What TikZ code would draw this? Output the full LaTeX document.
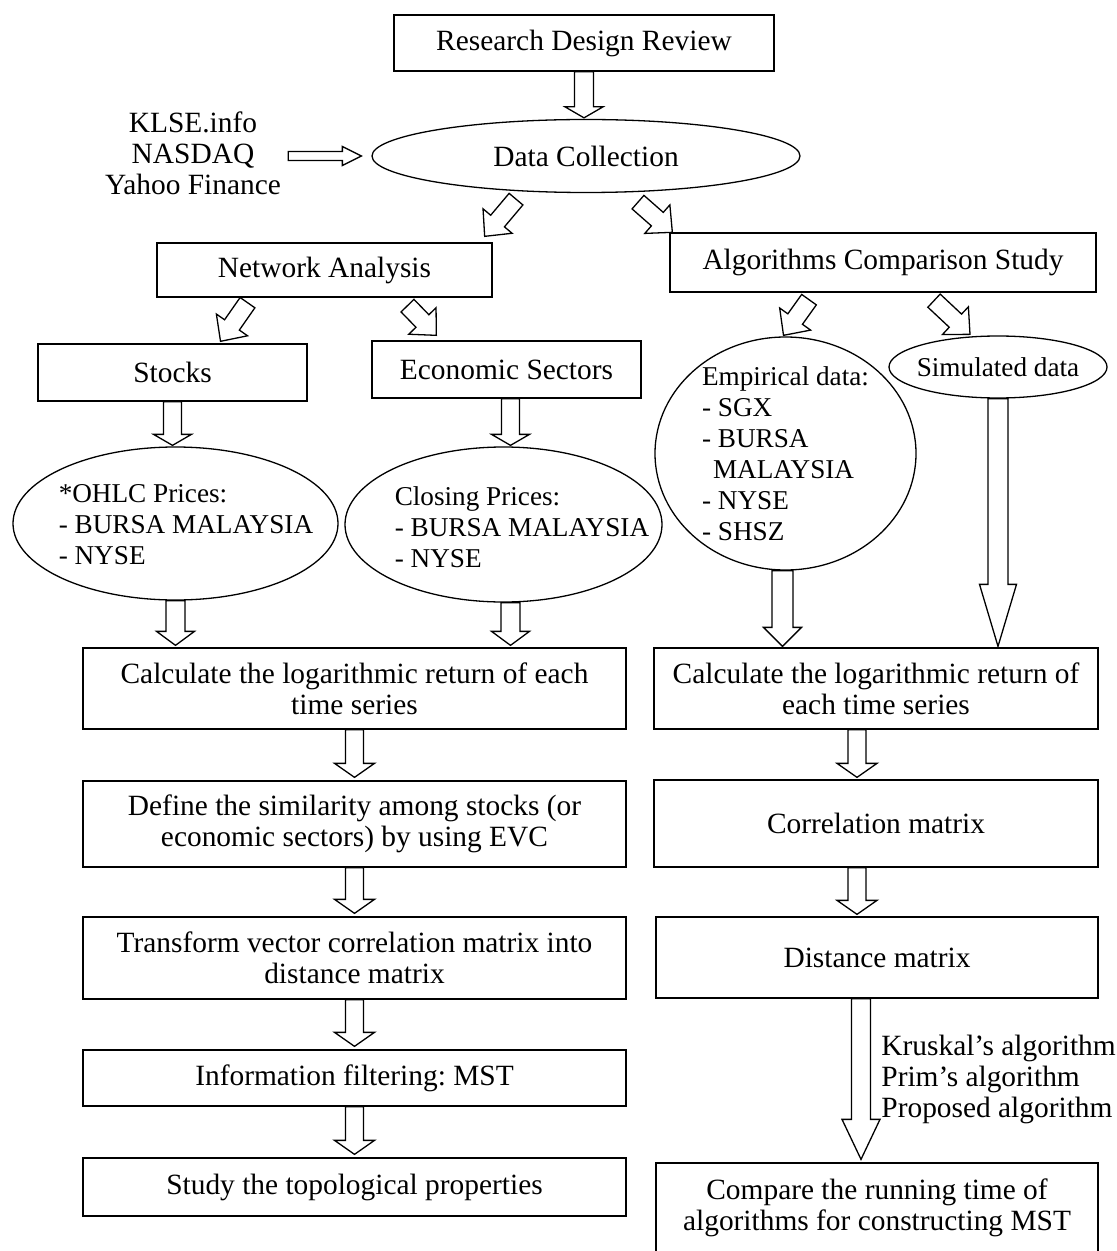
\documentclass[tikz,border=0pt]{standalone}
\usepackage{fontspec}
\setmainfont{Liberation Serif}
\usetikzlibrary{shapes.geometric,calc,positioning}

\tikzset{
  box/.style={draw,rectangle,inner sep=0pt,align=center,line width=0.65pt},
  oval/.style={draw,ellipse,inner sep=-30pt,line width=0.65pt},
  blk/.style={draw,fill=white,line width=0.65pt,line join=miter},
  listfont/.style={font=\fontsize{13.6}{15.5}\selectfont},
  listtext/.style={listfont,align=left,inner sep=0pt,anchor=west}
}

% hollow block arrow: from, to, half shaft, half head, head length
\newcommand{\blockarrow}[5]{%
  \draw[blk] let \p1=(#1), \p2=(#2),
      \n1={atan2(\y2-\y1,\x2-\x1)}, \n2={veclen(\x2-\x1,\y2-\y1)} in
    {[shift={(\p1)},rotate=\n1]
    (0pt,-#3) -- ({\n2*1pt-#5},-#3) -- ({\n2*1pt-#5},-#4) -- ({\n2*1pt},0pt)
    -- ({\n2*1pt-#5},#4) -- ({\n2*1pt-#5},#3) -- (0pt,#3) -- cycle};}

\begin{document}
\frenchspacing
\begin{tikzpicture}[x=0.5pt,y=-0.5pt,every node/.style={font=\fontsize{14.7}{15.5}\selectfont}]
  \useasboundingbox (0,0) rectangle (1117,1251);
  % top
  \node[box,minimum width=190pt,minimum height=28pt] (rdr) at (584,43) {Research Design Review};
  \node[oval,minimum width=214pt,minimum height=36.5pt] (dc) at (586,156) {Data Collection};
  \node[align=center,inner sep=0pt] (src) at (193,153) {KLSE.info\\NASDAQ\\Yahoo Finance};
  \node[box,minimum width=167.5pt,minimum height=27pt] (na) at (324.5,270) {Network Analysis};
  \node[box,minimum width=213pt,minimum height=29.5pt] (acs) at (883,262.5) {Algorithms Comparison Study};

  % network analysis branch
  \node[box,minimum width=134.5pt,minimum height=28.5pt] (stk) at (172.5,372.5) {Stocks};
  \node[box,minimum width=134.5pt,minimum height=28.5pt] (eco) at (506.5,369.5) {Economic Sectors};
  \node[oval,minimum width=162.5pt,minimum height=76.5pt] (ohlc) at (175.5,523.5) {};
  \node[listtext] (ohlctxt) at ($(ohlc.west)+(46,1.5)$) {*OHLC Prices:\\- BURSA MALAYSIA\\- NYSE};
  \node[oval,minimum width=158.5pt,minimum height=77.5pt] (clo) at (503.5,524.5) {};
  \node[listtext] (clotxt) at ($(clo.west)+(50,2.5)$) {Closing Prices:\\- BURSA MALAYSIA\\- NYSE};
  \node[box,minimum width=271.5pt,minimum height=40.5pt] (calcL) at (354.5,688.5)
    {Calculate the logarithmic return of each\\time series};
  \node[box,minimum width=271.5pt,minimum height=43pt] (defn) at (354.5,824)
    {Define the similarity among stocks (or\\economic sectors) by using EVC};
  \node[box,minimum width=271.5pt,minimum height=41pt] (trans) at (354.5,958)
    {Transform vector correlation matrix into\\distance matrix};
  \node[box,minimum width=271.5pt,minimum height=28pt] (filt) at (354.5,1078) {Information filtering: MST};
  \node[box,minimum width=271.5pt,minimum height=29pt] (topo) at (354.5,1187) {Study the topological properties};

  % algorithms branch
  \node[oval,listfont,align=left,minimum width=130.5pt,minimum height=116.5pt] (emp) at (785.5,453.5)
    {Empirical data:\\- SGX\\- BURSA\\\hspace*{5.5pt}MALAYSIA\\- NYSE\\- SHSZ};
  \node[oval,listfont,minimum width=109pt,minimum height=31pt] (sim) at (998,367) {Simulated data};
  \node[box,minimum width=222pt,minimum height=40.5pt] (calcR) at (876,688.5)
    {Calculate the logarithmic return of\\each time series};
  \node[box,minimum width=222pt,minimum height=43.5pt] (corr) at (876,823.5) {Correlation matrix};
  \node[box,minimum width=221pt,minimum height=40.5pt] (dist) at (877,957.5) {Distance matrix};
  \node[box,minimum width=221pt,minimum height=45pt] (comp) at (877,1208)
    {Compare the running time of\\algorithms for constructing MST};
  \node[anchor=west,align=left,inner sep=0pt] (algs) at (881,1079)
    {Kruskal’s algorithm\\Prim’s algorithm\\Proposed algorithm};

  % arrows
  \blockarrow{rdr.south}{$(rdr.south|-dc.north)+(0,-1)$}{4.75pt}{9.5pt}{5.5pt}
  \blockarrow{$(src.east|-dc.west)+(7,0)$}{$(dc.west)+(-10,0)$}{2.25pt}{4.75pt}{9.5pt}
  \blockarrow{$(dc.south)+(-70,6)$}{$(na.north east)+(-8,-6)$}{4.5pt}{9.5pt}{10pt}
  \blockarrow{$(dc.south)+(52,9)$}{$(acs.north west)+(3,0)$}{4.5pt}{9.5pt}{10pt}
  \blockarrow{$(na.south)+(-77,5)$}{$(stk.north)+(48,-2)$}{4.5pt}{9.5pt}{10pt}
  \blockarrow{$(na.south)+(83,8)$}{$(eco.north west)+(65,-5)$}{4.5pt}{9.5pt}{10pt}
  \blockarrow{$(acs.south)+(-74,7)$}{$(emp.north)+(-2,-1)$}{4.5pt}{9.5pt}{10pt}
  \blockarrow{$(acs.south)+(51,8)$}{$(sim.north)+(-28,-1)$}{4.5pt}{9.5pt}{10pt}
  \blockarrow{stk.south}{$(stk.south|-ohlc.north)+(0,-1)$}{4.5pt}{9.5pt}{5.5pt}
  \blockarrow{$(eco.south)+(4,0)$}{$(eco.south|-clo.north)+(4,-1)$}{4.5pt}{9.5pt}{5.5pt}
  \blockarrow{ohlc.south}{$(ohlc.south|-calcL.north)+(0,-2)$}{4.75pt}{9.5pt}{7pt}
  \blockarrow{$(clo.south)+(7,0)$}{$(clo.south|-calcL.north)+(7,-2)$}{4.75pt}{9.5pt}{7pt}
  \blockarrow{calcL.south}{$(calcL.south|-defn.north)+(0,-3)$}{4.5pt}{10pt}{7pt}
  \blockarrow{defn.south}{$(defn.south|-trans.north)+(0,-3)$}{4.5pt}{10pt}{7pt}
  \blockarrow{trans.south}{$(trans.south|-filt.north)+(0,-3)$}{4.5pt}{10pt}{7pt}
  \blockarrow{filt.south}{$(filt.south|-topo.north)+(0,-3)$}{4.5pt}{10pt}{7pt}
  \blockarrow{$(emp.south)+(-3,0)$}{$(emp.south|-calcR.north)+(-3,-1)$}{5.25pt}{9.5pt}{9.5pt}
  \blockarrow{sim.south}{$(sim.south|-calcR.north)+(0,-1)$}{5pt}{9.25pt}{31pt}
  \blockarrow{$(calcR.south)+(-19,0)$}{$(calcR.south|-corr.north)+(-19,-2)$}{4.5pt}{10pt}{7pt}
  \blockarrow{$(corr.south)+(-19,0)$}{$(corr.south|-dist.north)+(-19,-2)$}{4.5pt}{10pt}{7pt}
  \blockarrow{$(dist.south)+(-16,0)$}{$(dist.south|-comp.north)+(-16,-3)$}{4.75pt}{9.5pt}{20pt}
\end{tikzpicture}
\end{document}
